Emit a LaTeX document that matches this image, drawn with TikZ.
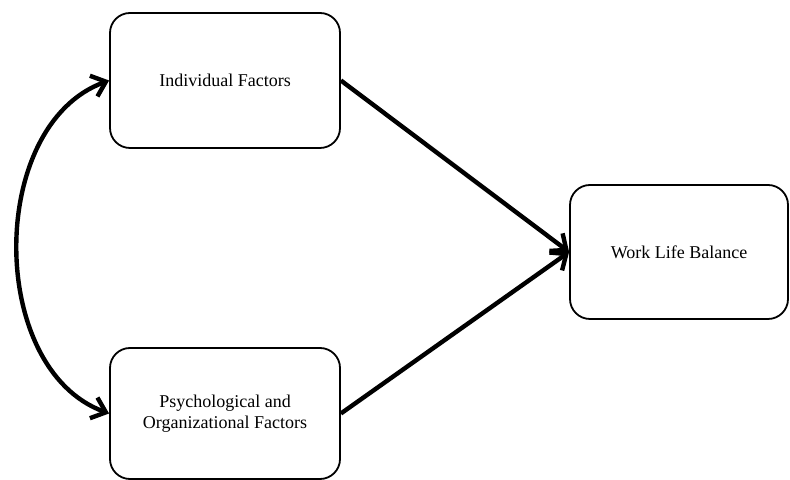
\documentclass[tikz,border=0pt]{standalone}
\usepackage{fontspec}
\setmainfont{Liberation Serif}
\usetikzlibrary{arrows.meta}

\begin{document}
\begin{tikzpicture}[x=0.5pt,y=0.5pt,
    factor/.style={draw,rounded corners=10pt,line width=0.9pt,align=center,
        font=\fontsize{9}{10.5}\selectfont,inner sep=0pt},
    link/.style={line width=2.2pt,-{Straight Barb[length=6.5pt,width=11pt]}}]
    \useasboundingbox (0,0) rectangle (790,480);
    \node[factor,minimum width=115pt,minimum height=67.5pt] (ind) at (225,399.5) {Individual Factors};
    \node[factor,minimum width=115pt,minimum height=65.5pt] (psy) at (225,66.5)
        {Psychological and\\Organizational Factors};
    \node[factor,minimum width=109pt,minimum height=67pt] (wlb) at (679,228) {Work Life Balance};
    \draw[link] (ind.east) -- (wlb.west);
    \draw[link] (psy.east) -- (wlb.west);
    \draw[link,{Straight Barb[length=6.5pt,width=11pt]}-{Straight Barb[length=6.5pt,width=11pt]}]
        (ind.west) to[out=200,in=160] (psy.west);
\end{tikzpicture}
\end{document}
